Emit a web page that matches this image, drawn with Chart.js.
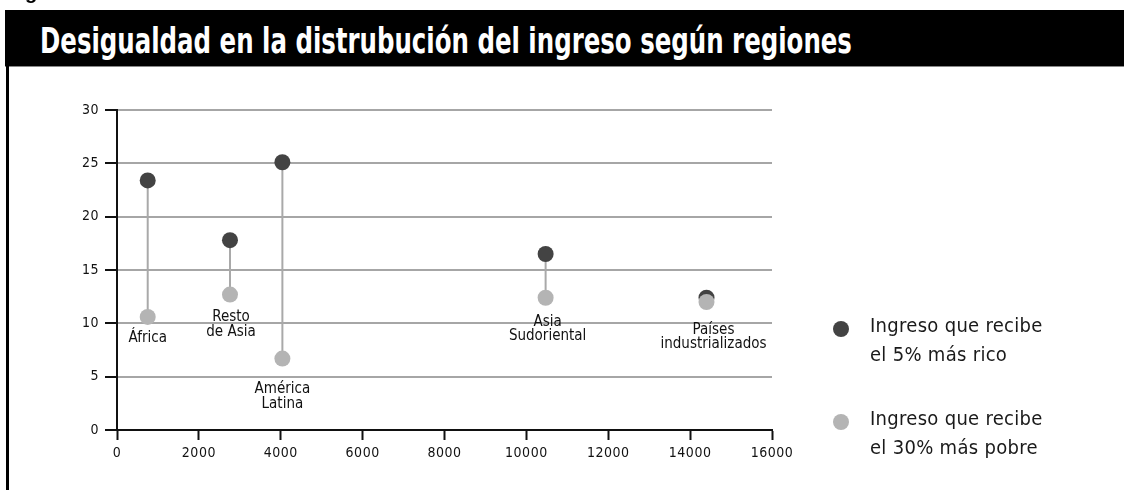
<!DOCTYPE html>
<html>
<head>
<meta charset="utf-8">
<script src="https://cdn.jsdelivr.net/npm/chart.js@4"></script>
<style>
  body { margin: 0; background: #fff; }
  #wrap { position: relative; width: 1124px; height: 490px; overflow: hidden; background: #fff; }
  #frag { position: absolute; left: 25px; top: -19px; font: bold 20px 'Liberation Sans', sans-serif; color: #000; }
  #head { position: absolute; left: 5px; top: 10px; width: 1119px; height: 56px; background: #000; border-bottom: 1px solid #888; }
  #title { position: absolute; left: 35px; top: 10px; color: #fff; white-space: nowrap;
           font: bold 36px 'Liberation Sans Narrow', 'DejaVu Sans Condensed', sans-serif; transform-origin: 0 0; }
  #side { position: absolute; left: 6px; top: 66px; width: 3px; height: 430px; background: #000; }
  canvas { position: absolute; left: 0; top: 0; }
</style>
</head>
<body>
<div id="wrap">
  <canvas id="myChart" width="1124" height="490"></canvas>
  <div id="frag">g</div>
  <div id="head"><span id="title">Desigualdad en la distrubución del ingreso según regiones</span></div>
  <div id="side"></div>
</div>
<script>
// datos
const regiones = [['África'], ['Resto', 'de Asia'], ['América', 'Latina'], ['Asia', 'Sudoriental'], ['Países', 'industrializados']];
const ingresoPc = [750, 2760, 4040, 10470, 14400];
const rico5 = [23.4, 17.8, 25.1, 16.5, 12.4];
const pobre30 = [10.6, 12.7, 6.7, 12.4, 12.0];
const ticksX = [0, 2000, 4000, 6000, 8000, 10000, 12000, 14000, 16000];
const ticksY = [0, 5, 10, 15, 20, 25, 30];
const leyenda = [['Ingreso que recibe', 'el 5% más rico'], ['Ingreso que recibe', 'el 30% más pobre']];

// desplazamiento de las etiquetas respecto al punto claro (px)
const etiquetaDx = [0, 1, 0, 2, 7];
const etiquetaDy = [21, 23, 31, 24, 28];

const oscuro = '#434343';
const claro = '#b4b4b4';
const narrow = "'Liberation Sans Narrow', 'DejaVu Sans Condensed', sans-serif";

// ajusta el ancho del título
const t = document.getElementById('title');
t.style.transform = 'scaleX(' + (812 / t.offsetWidth) + ')';

const tallos = {
    id: 'tallos',
    beforeDatasetsDraw(chart) {
        const ctx = chart.ctx;
        const sx = chart.scales.x, sy = chart.scales.y;
        ctx.save();
        ctx.strokeStyle = '#a9a9a9';
        ctx.lineWidth = 2;
        ingresoPc.forEach((x, i) => {
            const px = sx.getPixelForValue(x);
            ctx.beginPath();
            ctx.moveTo(px, sy.getPixelForValue(rico5[i]));
            ctx.lineTo(px, sy.getPixelForValue(pobre30[i]));
            ctx.stroke();
        });
        ctx.restore();
    }
};

const etiquetas = {
    id: 'etiquetas',
    afterDatasetsDraw(chart) {
        const ctx = chart.ctx;
        const sx = chart.scales.x, sy = chart.scales.y;
        ctx.save();
        ctx.font = '15px ' + narrow;
        ctx.letterSpacing = '0px';
        ctx.fillStyle = '#111';
        ctx.textAlign = 'center';
        ctx.textBaseline = 'middle';
        regiones.forEach((lineas, i) => {
            const px = sx.getPixelForValue(ingresoPc[i]) + etiquetaDx[i];
            const py = sy.getPixelForValue(pobre30[i]) + etiquetaDy[i];
            lineas.forEach((l, k) => ctx.fillText(l, px, py + k * 14.5));
        });
        ctx.restore();

        // leyenda
        const colores = [oscuro, claro];
        const lx = chart.chartArea.right + 69;
        const ly = [329, 422];
        ctx.save();
        ctx.font = '20px ' + narrow;
        ctx.letterSpacing = '0.3px';
        ctx.textBaseline = 'middle';
        ctx.textAlign = 'left';
        leyenda.forEach((lineas, i) => {
            ctx.fillStyle = colores[i];
            ctx.beginPath();
            ctx.arc(lx, ly[i], 8, 0, Math.PI * 2);
            ctx.fill();
            ctx.fillStyle = '#1a1a1a';
            lineas.forEach((l, k) => ctx.fillText(l, lx + 29, ly[i] - 2 + k * 29));
        });
        ctx.restore();
    }
};

const espaciado = {
    id: 'espaciado',
    beforeDraw(chart) { chart.ctx.letterSpacing = '0.5px'; }
};

const ctx = document.getElementById('myChart').getContext('2d');
new Chart(ctx, {
    type: 'scatter',
    data: {
        datasets: [
            {
                label: leyenda[0].join(' '),
                data: ingresoPc.map((x, i) => ({ x: x, y: rico5[i] })),
                backgroundColor: oscuro,
                borderWidth: 0,
                pointRadius: 8,
                order: 1
            },
            {
                label: leyenda[1].join(' '),
                data: ingresoPc.map((x, i) => ({ x: x, y: pobre30[i] })),
                backgroundColor: claro,
                borderWidth: 0,
                pointRadius: 8,
                order: 0
            }
        ]
    },
    options: {
        responsive: false,
        animation: false,
        devicePixelRatio: 1,
        layout: { padding: { left: 0, top: 110, right: 352, bottom: 0 } },
        plugins: {
            legend: { display: false },
            tooltip: { enabled: false }
        },
        scales: {
            x: {
                type: 'linear',
                min: ticksX[0],
                max: ticksX[ticksX.length - 1],
                afterBuildTicks(scale) { scale.ticks = ticksX.map(v => ({ value: v })); },
                afterFit(scale) { scale.height = 60; },
                ticks: { color: '#111', padding: 5, font: { family: narrow, size: 14 }, callback: v => String(v) },
                grid: { drawOnChartArea: false, tickLength: 10, tickColor: '#111', tickWidth: 2 },
                border: { color: '#111', width: 2 }
            },
            y: {
                min: ticksY[0],
                max: ticksY[ticksY.length - 1],
                afterBuildTicks(scale) { scale.ticks = ticksY.map(v => ({ value: v })); },
                afterFit(scale) { scale.width = 117; },
                ticks: { color: '#111', padding: 6, font: { family: narrow, size: 14 }, callback: v => String(v) },
                grid: { color: '#a6a6a6', lineWidth: 2, tickLength: 12, tickColor: '#111', tickWidth: 2 },
                border: { color: '#111', width: 2 }
            }
        }
    },
    plugins: [espaciado, tallos, etiquetas]
});
</script>
</body>
</html>
